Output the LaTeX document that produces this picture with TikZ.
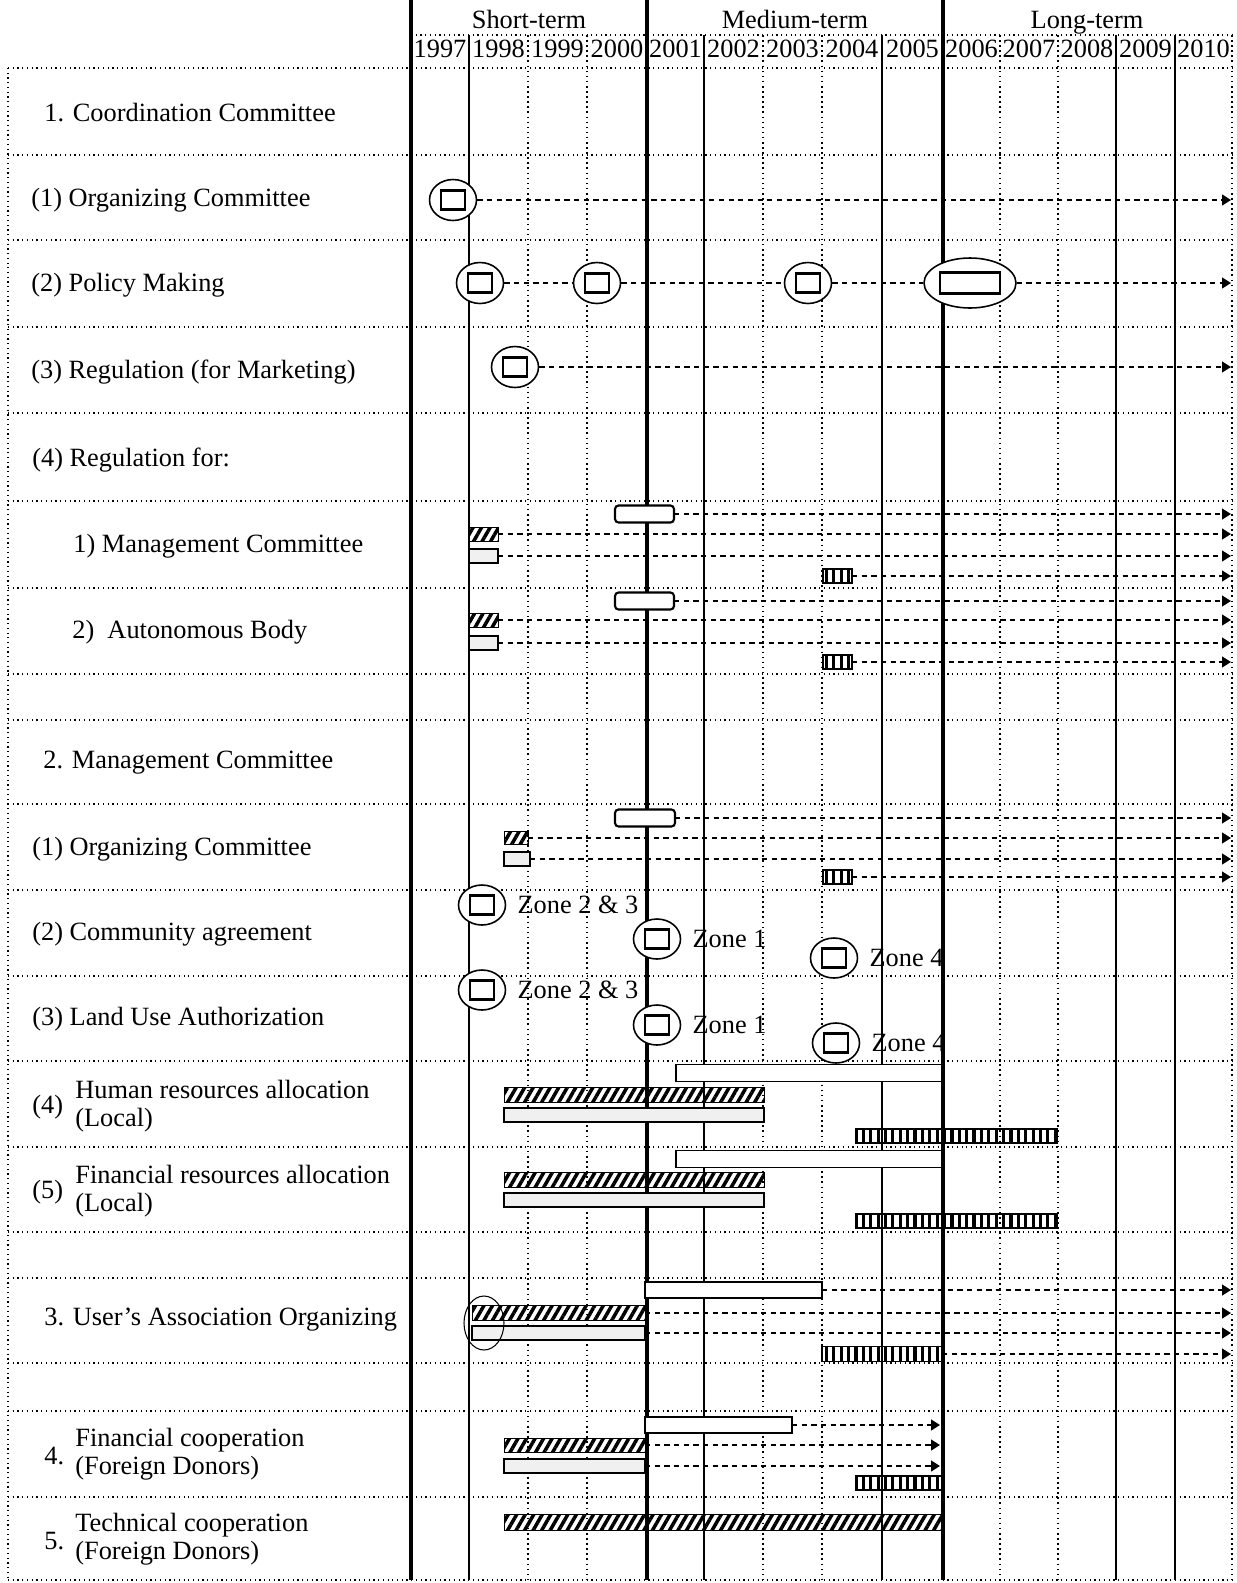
\documentclass[tikz,border=0pt]{standalone}
\usepackage{fontspec}
\setmainfont{Liberation Serif}
\usetikzlibrary{positioning,shapes.geometric,patterns.meta,arrows.meta}

% bar as a node: name, style, x from, x to, y, height (all in px)
\newcommand{\gbar}[6]{%
  \node[#2, minimum width={(#4-#3)*0.02cm}, minimum height={#6*0.02cm}] (#1) at ({(#3+#4)/2},#5) {};}

\begin{document}
\begin{tikzpicture}[x=0.02cm, y=-0.02cm,
  txt/.style={font=\fontsize{15}{16}\selectfont, inner sep=0pt},
  lbl/.style={txt, anchor=west},
  head/.style={txt, anchor=base},
  gridthick/.style={line width=1.8pt},
  gridsolid/.style={line width=0.9pt},
  griddot/.style={dotted, line width=0.9pt},
  rowline/.style={dotted, line width=0.7pt},
  plan/.style={draw, fill=white, line width=1.2pt, rounded corners=2pt, inner sep=0pt, outer sep=0pt},
  white/.style={draw, fill=white, line width=1.1pt, inner sep=0pt, outer sep=0pt},
  hatch/.style={draw, line width=0.4pt, pattern={Lines[angle=60, distance=4.2pt, line width=2pt]}, inner sep=0pt, outer sep=0pt},
  light/.style={draw, fill=gray!12, line width=0.9pt, inner sep=0pt, outer sep=0pt},
  vert/.style={draw, line width=0.8pt, pattern={Lines[angle=90, distance=4.2pt, line width=1.8pt]}, inner sep=0pt, outer sep=0pt},
  meet/.style={ellipse, draw, fill=white, line width=0.9pt, minimum width=0.94cm, minimum height=0.82cm, inner sep=0pt},
  sq/.style={draw, line width=1.4pt, minimum width=0.48cm, minimum height=0.38cm, inner sep=0pt},
  link/.style={dash pattern=on 3pt off 2.5pt, line width=1.1pt},
  flow/.style={link, -{Triangle[length=5pt, width=6pt]}}]

  \useasboundingbox (0,0) rectangle (1237,1583);

  % grid: year columns and rows
  \foreach \x in {411,647,943} \draw[gridthick] (\x,0) -- (\x,1580);
  \foreach \x in {469,704,882,1116,1175} \draw[gridsolid] (\x,35) -- (\x,1580);
  \foreach \x in {528,587,763,822,1000,1058,1232} \draw[griddot] (\x,35) -- (\x,1580);
  \draw[rowline] (411,35) -- (1232,35);
  \draw[rowline] (8,68) -- (8,1580);
  \foreach \y in {68,155,240,327,413,501,588,674,720,804,890,976,1061,1147,1232,1278,1363,1411,1497,1580}
    \draw[rowline] (8,\y) -- (1232,\y);

  % header
  \node[head] (st) at (529,28) {Short-term};
  \node[head] (mt) at (795,28) {Medium-term};
  \node[head] (lt) at (1087,28) {Long-term};
  \foreach \yr/\cx in {1997/440,1998/498.5,1999/557.5,2000/617,2001/675.5,2002/733.5,2003/792.5,
                       2004/852,2005/912.5,2006/971.5,2007/1029,2008/1087,2009/1145.5,2010/1203.5}
    \node[head] (y\yr) at (\cx,57) {\yr};

  % row labels
  \node[lbl] (l1)  at (44,113)  {1. Coordination Committee};
  \node[lbl] (l2)  at (31,200)  {(1) Organizing Committee};
  \node[lbl] (l3)  at (31,285)  {(2) Policy Making};
  \node[lbl] (l4)  at (31,372)  {(3) Regulation (for Marketing)};
  \node[lbl] (l5)  at (32,460)  {(4) Regulation for:};
  \node[lbl] (l6)  at (73,546)  {1) Management Committee};
  \node[lbl] (l7)  at (72,632)  {2)\enspace Autonomous Body};
  \node[lbl] (l8)  at (43,763)  {2. Management Committee};
  \node[lbl] (l9)  at (32,849)  {(1) Organizing Committee};
  \node[lbl] (l10) at (32,934)  {(2) Community agreement};
  \node[lbl] (l11) at (32,1019) {(3) Land Use Authorization};
  \node[lbl] (l12n) at (32,1107) {(4)};
  \node[lbl, align=left] (l12) at (75,1106) {Human resources allocation\\(Local)};
  \node[lbl] (l13n) at (32,1192) {(5)};
  \node[lbl, align=left] (l13) at (75,1191) {Financial resources allocation\\(Local)};
  \node[lbl] (l14) at (44,1320) {3. User's Association Organizing};
  \node[lbl] (l15n) at (44,1456) {4.};
  \node[lbl, align=left] (l15) at (75,1454) {Financial cooperation\\(Foreign Donors)};
  \node[lbl] (l16n) at (44,1541) {5.};
  \node[lbl, align=left] (l16) at (75,1539) {Technical cooperation\\(Foreign Donors)};

  % arrow ends
  \coordinate (rim) at (1231,0);
  \coordinate (rimb) at (940,0);

  % 1. Coordination Committee
  \node[meet] (oc) at (453,200) {};
  \node[sq] (ocs) at (oc) {};
  \draw[flow] (oc.east) -- (oc.east -| rim);

  \node[meet] (pm1) at (480,283) {};
  \node[meet] (pm2) at (597,283) {};
  \node[meet] (pm3) at (808,283) {};
  \node[meet, minimum width=1.84cm, minimum height=1cm] (pm4) at (970,283) {};
  \foreach \p in {pm1,pm2,pm3} \node[sq] (\p s) at (\p) {};
  \node[sq, minimum width=1.2cm, minimum height=0.42cm] (pm4s) at (pm4) {};
  \draw[link] (pm1) -- (pm2);
  \draw[link] (pm2) -- (pm3);
  \draw[link] (pm3) -- (pm4);
  \draw[flow] (pm4.east) -- (pm4.east -| rim);

  \node[meet] (rg) at (515,367) {};
  \node[sq] (rgs) at (rg) {};
  \draw[flow] (rg.east) -- (rg.east -| rim);

  % 1) Management Committee, 2) Autonomous Body
  \gbar{mcA}{plan}{615}{674}{514}{17}
  \gbar{mcB}{hatch}{469}{498}{534}{14}
  \gbar{mcC}{light}{469}{498}{556}{14}
  \gbar{mcD}{vert}{823}{852}{576}{14}
  \gbar{abA}{plan}{615}{674}{601}{17}
  \gbar{abB}{hatch}{469}{498}{620}{14}
  \gbar{abC}{light}{469}{498}{643}{14}
  \gbar{abD}{vert}{823}{852}{662}{14}
  \foreach \b in {mcA,mcB,mcC,mcD,abA,abB,abC,abD}
    \draw[flow] (\b.east) -- (\b.east -| rim);

  % 2. Management Committee
  \gbar{moA}{plan}{615}{675}{818}{17}
  \gbar{moB}{hatch}{504}{528}{838}{13}
  \gbar{moC}{light}{504}{530}{859}{14}
  \gbar{moD}{vert}{823}{852}{877}{14}
  \foreach \b in {moA,moB,moC,moD}
    \draw[flow] (\b.east) -- (\b.east -| rim);

  \foreach \n/\x/\y/\t in {ca1/482/905/{Zone 2 \& 3}, ca2/657/939/{Zone 1}, ca3/834/958/{Zone 4},
                          lu1/482/990/{Zone 2 \& 3}, lu2/657/1025/{Zone 1}, lu3/836/1043/{Zone 4}} {
    \node[meet, minimum height=0.8cm] (\n) at (\x,\y) {};
    \node[sq] (\n s) at (\n) {};
    \node[txt, right=0.22cm of \n] (\n t) {\t};
  }

  \gbar{hrA}{white}{676}{942}{1073}{17}
  \gbar{hrB}{hatch}{504}{764}{1095}{15}
  \gbar{hrC}{light}{504}{764}{1115}{14}
  \gbar{hrD}{vert}{856}{1057}{1136}{14}
  \gbar{frA}{white}{676}{942}{1159}{17}
  \gbar{frB}{hatch}{504}{764}{1180}{15}
  \gbar{frC}{light}{504}{764}{1200}{14}
  \gbar{frD}{vert}{856}{1057}{1221}{14}

  % 3. User's Association Organizing
  \gbar{uaA}{white}{645}{822}{1290}{16}
  \gbar{uaB}{hatch}{472}{645}{1313}{15}
  \gbar{uaC}{light}{472}{645}{1333}{14}
  \gbar{uaD}{vert}{822}{942}{1354}{15}
  \foreach \b in {uaA,uaB,uaC,uaD}
    \draw[flow] (\b.east) -- (\b.east -| rim);
  \node[ellipse, draw, line width=0.6pt, minimum width=0.8cm, minimum height=1.08cm] (uaE) at (484,1323) {};

  % 4. and 5. Foreign Donors
  \gbar{fcA}{white}{645}{792}{1425}{16}
  \gbar{fcB}{hatch}{504}{645}{1445}{14}
  \gbar{fcC}{light}{504}{645}{1466}{14}
  \gbar{fcD}{vert}{856}{942}{1483}{14}
  \foreach \b in {fcA,fcB,fcC}
    \draw[flow] (\b.east) -- (\b.east -| rimb);
  \gbar{tcA}{hatch}{504}{942}{1522}{16}
\end{tikzpicture}
\end{document}
